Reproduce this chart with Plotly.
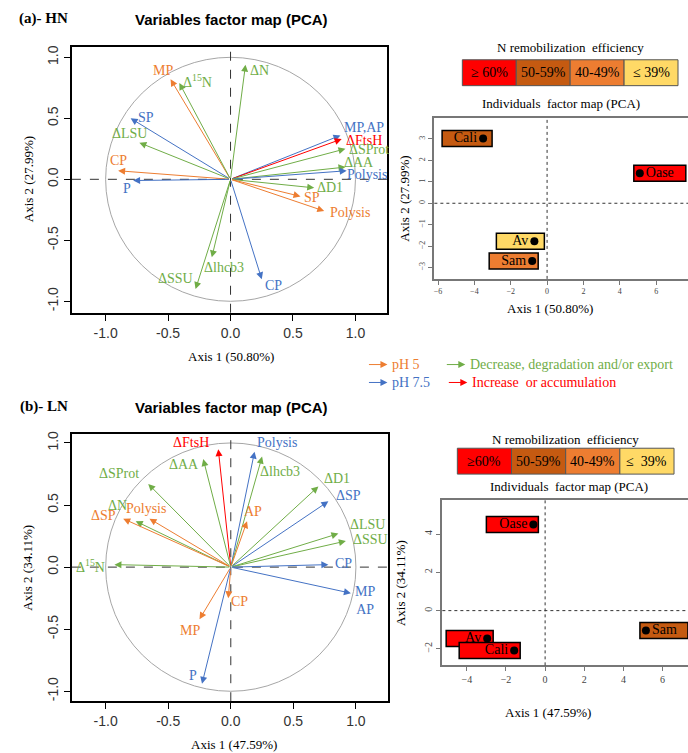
import plotly.graph_objects as go

W, H = 688, 753
SERIF = "Liberation Serif"
SANS = "Liberation Sans"

# ---------------- data ----------------
# (a) HN variables
a_names = ["MP", "Δ<sup>15</sup>N", "SP", "ΔLSU", "CP", "P", "ΔN", "MP,AP", "ΔFtsH", "ΔSProt",
           "ΔAA", "Polysis", "ΔD1", "SP", "Polysis", "Δlhcb3", "CP", "ΔSSU"]
a_x = [-0.48, -0.41, -0.80, -0.73, -0.90, -0.78, 0.12, 0.88, 0.89, 0.92,
       0.92, 0.93, 0.67, 0.56, 0.75, -0.15, 0.25, -0.28]
a_y = [0.82, 0.79, 0.50, 0.30, 0.07, -0.01, 0.94, 0.36, 0.33, 0.25,
       0.10, 0.07, -0.07, -0.14, -0.26, -0.64, -0.82, -0.90]
a_group = ["pH5", "dec", "pH75", "dec", "pH5", "pH75", "dec", "pH75", "inc", "dec",
           "dec", "pH75", "dec", "pH5", "pH5", "dec", "pH75", "dec"]

# (b) LN variables
b_names = ["ΔFtsH", "ΔAA", "ΔSProt", "ΔN", "ΔSP", "Polysis", "Δ<sup>15</sup>N", "Polysis", "Δlhcb3",
           "ΔD1", "ΔSP", "AP", "ΔLSU", "ΔSSU", "CP", "MP<br>AP", "CP", "MP", "P"]
b_x = [-0.10, -0.22, -0.66, -0.76, -0.86, -0.65, -0.93, 0.19, 0.25,
       0.70, 0.78, 0.13, 0.86, 0.92, 0.78, 0.96, -0.02, -0.25, -0.23]
b_y = [0.95, 0.87, 0.67, 0.37, 0.39, 0.39, 0.02, 0.93, 0.89,
       0.65, 0.53, 0.37, 0.27, 0.21, 0.02, -0.21, -0.25, -0.42, -0.94]
b_group = ["inc", "dec", "dec", "dec", "pH5", "pH5", "dec", "pH75", "dec",
           "dec", "pH75", "pH5", "dec", "dec", "pH75", "pH75", "pH5", "pH5", "pH75"]

# individuals
ia_names = ["Cali", "Oase", "Av", "Sam"]
ia_x = [-3.52, 5.10, -0.70, -0.82]
ia_y = [3.02, 1.40, -1.77, -2.70]
ia_class = ["50-59%", "≥ 60%", "≤ 39%", "40-49%"]

ib_names = ["Oase", "Av", "Cali", "Sam"]
ib_x = [-0.60, -2.96, -1.58, 5.15]
ib_y = [4.50, -1.46, -2.08, -1.04]
ib_class = ["≥ 60%", "≥ 60%", "≥ 60%", "50-59%"]

eff_classes = ["≥ 60%", "50-59%", "40-49%", "≤ 39%"]
eff_labels_a = ["≥ 60%", "50-59%", "40-49%", "≤ 39%"]
eff_labels_b = ["≥60%", "50-59%", "40-49%", "≤  39%"]

# ---------------- styles ----------------
COL = {"pH5": "#ED7D31", "pH75": "#4472C4", "dec": "#70AD47", "inc": "#FF0000"}
EFF_COL = {"≥ 60%": "#FF0000", "50-59%": "#C55A11", "40-49%": "#ED7D31", "≤ 39%": "#FFD966"}

# label pixel offsets (dx right, dy up) relative to arrow tips
a_off = [(-8, 9), (18, 2), (15, 1), (-10, 9), (0, 10), (-6, -8), (14, -6), (24, 8), (22, -1), (24, -1),
         (14, 5), (20, -4), (16, 0), (12, -1), (26, -1), (12, -10), (12, -6), (-20, 11)]
b_off = [(-27, 7), (-19, -5), (-29, 10), (-18, 16), (-20, 3), (-3, 10), (-24, -1), (22, 9), (18, -15),
         (19, 8), (20, 6), (6, 10), (29, 9), (25, 2), (15, 1), (14, -7), (11, -3), (-10, -11), (-9, 8)]
# label-box pixel extents around each individual's dot (left, right)
ia_box = [(-41, 9), (-6, 46), (-38, 10), (-43, 6)]
ib_box = [(-47, 5), (-41, 6), (-55, 6), (-6, 42)]


def px(x):
    return x / W


def py(y):
    return 1 - y / H


fig = go.Figure()
annotations = []
shapes = []


def var_panel(xa, ya, names, xs, ys, groups, offs):
    xr = "x" if xa == 1 else f"x{xa}"
    yr = "y" if ya == 1 else f"y{ya}"
    fig.add_trace(go.Scatter(x=xs, y=ys, mode="markers", marker=dict(opacity=0),
                             xaxis=xr, yaxis=yr, hoverinfo="skip", showlegend=False))
    shapes.append(dict(type="circle", xref=xr, yref=yr, x0=-1, x1=1, y0=-1, y1=1,
                       line=dict(color="#A6A6A6", width=1), layer="below"))
    shapes.append(dict(type="line", xref=xr, yref=f"{yr} domain", x0=0, x1=0, y0=0, y1=1,
                       line=dict(color="#333", width=1, dash="dash")))
    shapes.append(dict(type="line", xref=f"{xr} domain", yref=yr, x0=0, x1=1, y0=0, y1=0,
                       line=dict(color="#333", width=1, dash="dash")))
    for n, x, y, g, (dx, dy) in zip(names, xs, ys, groups, offs):
        c = COL[g]
        annotations.append(dict(x=x, y=y, ax=0, ay=0, xref=xr, yref=yr, axref=xr, ayref=yr,
                                text="", showarrow=True, arrowhead=2, arrowsize=1.4,
                                arrowwidth=1, arrowcolor=c, standoff=0))
        annotations.append(dict(x=x, y=y, xref=xr, yref=yr, text=n, showarrow=False,
                                xshift=dx, yshift=dy, font=dict(family=SERIF, size=14, color=c)))


def ind_panel(xa, ya, names, xs, ys, classes, boxes):
    xr = f"x{xa}"
    yr = f"y{ya}"
    pos = ["middle right" if x > 2 else "middle left" for x in xs]
    fig.add_trace(go.Scatter(x=xs, y=ys, mode="markers+text", text=names, textposition=pos,
                             textfont=dict(family=SERIF, size=14, color="black"),
                             marker=dict(color="black", size=8), cliponaxis=False,
                             xaxis=xr, yaxis=yr, hoverinfo="skip", showlegend=False))
    shapes.append(dict(type="line", xref=xr, yref=f"{yr} domain", x0=0, x1=0, y0=0, y1=1,
                       line=dict(color="#333", width=1, dash="dot")))
    shapes.append(dict(type="line", xref=f"{xr} domain", yref=yr, x0=0, x1=1, y0=0, y1=0,
                       line=dict(color="#333", width=1, dash="dot")))
    for x, y, c, (x0, x1) in zip(xs, ys, classes, boxes):
        shapes.append(dict(type="rect", xref=xr, yref=yr, xsizemode="pixel", ysizemode="pixel",
                           xanchor=x, yanchor=y, x0=x0, x1=x1, y0=-8, y1=8,
                           fillcolor=EFF_COL[c], line=dict(color="black", width=1.5), layer="below"))


var_panel(1, 1, a_names, a_x, a_y, a_group, a_off)
var_panel(3, 3, b_names, b_x, b_y, b_group, b_off)
ind_panel(2, 2, ia_names, ia_x, ia_y, ia_class, ia_box)
ind_panel(4, 4, ib_names, ib_x, ib_y, ib_class, ib_box)

var_tick = dict(tickvals=[-1, -0.5, 0, 0.5, 1], ticktext=["-1.0", "-0.5", "0.0", "0.5", "1.0"],
                showgrid=False, zeroline=False, showline=True, mirror=True, linecolor="black",
                linewidth=2, ticks="outside", ticklen=6, tickcolor="black",
                tickfont=dict(family=SANS, size=14, color="#333"))


def ind_axis(size):
    return dict(showgrid=False, zeroline=False, showline=True, linecolor="#777", linewidth=2,
                ticks="outside", ticklen=4, tickcolor="#777",
                tickfont=dict(family=SERIF, size=size, color="#444"))


fig.update_layout(
    xaxis=dict(domain=[px(71), px(387)], range=[-1.27, 1.256], anchor="y", **var_tick),
    yaxis=dict(domain=[py(311), py(44)], range=[-1.094, 1.086], anchor="x", tickangle=-90, **var_tick),
    xaxis3=dict(domain=[px(71), px(388)], range=[-1.27, 1.26], anchor="y3", **var_tick),
    yaxis3=dict(domain=[py(701), py(433)], range=[-1.08, 1.07], anchor="x3", tickangle=-90, **var_tick),
    xaxis2=dict(domain=[px(434), 1.0], range=[-6.2, 7.75], anchor="y2", mirror=True,
                tickvals=[-6, -4, -2, 0, 2, 4, 6], **ind_axis(8)),
    yaxis2=dict(domain=[py(277), py(115)], range=[-3.53, 4.0], anchor="x2", tickangle=-90,
                tickvals=[-3, -2, -1, 0, 1, 2, 3], **ind_axis(8)),
    xaxis4=dict(domain=[px(442), 1.0], range=[-5.25, 7.3], anchor="y4", mirror=True,
                tickvals=[-4, -2, 0, 2, 4, 6], **ind_axis(10)),
    yaxis4=dict(domain=[py(665), py(499)], range=[-2.86, 5.78], anchor="x4", tickangle=-90,
                tickvals=[-2, 0, 2, 4], **ind_axis(10)),
)


# panel texts
def ptext(x, y, t, size=14, family=SERIF, color="black", bold=False, angle=0, xanchor="center"):
    if bold:
        t = f"<b>{t}</b>"
    annotations.append(dict(x=px(x), y=py(y), xref="paper", yref="paper", text=t, showarrow=False,
                            xanchor=xanchor, yanchor="middle", textangle=angle,
                            font=dict(family=family, size=size, color=color)))


ptext(16, 16, "(a)- HN", size=15, bold=True, xanchor="left")
ptext(231, 17, "Variables factor map (PCA)", size=15, family=SANS, bold=True)
ptext(230, 355, "Axis 1 (50.80%)", size=13)
ptext(27, 177, "Axis 2 (27.99%)", size=13, angle=-90)
ptext(17, 405, "(b)- LN", size=15, bold=True, xanchor="left")
ptext(231, 406, "Variables factor map (PCA)", size=15, family=SANS, bold=True)
ptext(233, 744, "Axis 1 (47.59%)", size=13)
ptext(27, 567, "Axis 2 (34.11%)", size=13, angle=-90)

ptext(550, 307, "Axis 1 (50.80%)", size=13)
ptext(404, 196, "Axis 2 (27.99%)", size=13, angle=-90)
ptext(561, 101, "Individuals  factor map (PCA)", size=13)
ptext(548, 712, "Axis 1 (47.59%)", size=13)
ptext(400, 582, "Axis 2 (34.11%)", size=13, angle=-90)
ptext(569, 485, "Individuals  factor map (PCA)", size=13)


def eff_table(x0, x1, y0, y1, ytitle, labels):
    w = (x1 - x0) / len(eff_classes)
    ptext((x0 + x1) / 2, ytitle, "N remobilization  efficiency", size=13)
    for i, (c, lab) in enumerate(zip(eff_classes, labels)):
        shapes.append(dict(type="rect", xref="paper", yref="paper",
                           x0=px(x0 + i * w), x1=px(x0 + (i + 1) * w), y0=py(y1), y1=py(y0),
                           fillcolor=EFF_COL[c], line=dict(color="#555", width=1)))
        ptext(x0 + (i + 0.5) * w, (y0 + y1) / 2, lab, size=14)


eff_table(462, 678, 57, 83, 45, eff_labels_a)
eff_table(457, 674, 447, 473, 438, eff_labels_b)

# arrow legend
leg = [(387, 363, "pH5", "pH 5"), (387, 381, "pH75", "pH 7.5"),
       (465, 363, "dec", "Decrease, degradation and/or export"),
       (467, 381, "inc", "Increase  or accumulation")]
for x, y, g, t in leg:
    annotations.append(dict(x=px(x), y=py(y), xref="paper", yref="paper", ax=-20, ay=0, text="",
                            showarrow=True, arrowhead=2, arrowsize=1.4, arrowwidth=1,
                            arrowcolor=COL[g], standoff=0))
    ptext(x + 3, y, t, size=14, color=COL[g], xanchor="left")

fig.update_layout(width=W, height=H, margin=dict(l=0, r=0, t=0, b=0),
                  paper_bgcolor="white", plot_bgcolor="white",
                  annotations=annotations, shapes=shapes, showlegend=False)

fig.write_html("out.html", config={"displayModeBar": False},
               post_script="document.body.style.margin='0';document.body.style.overflow='hidden';")
